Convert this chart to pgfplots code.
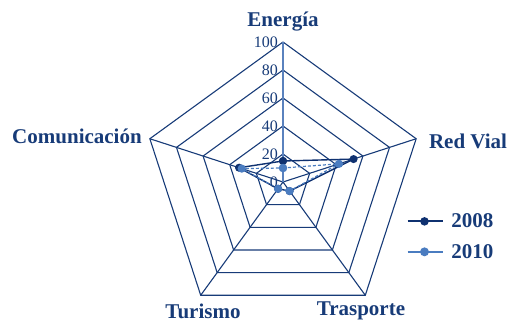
\documentclass[border=0pt]{standalone}
\usepackage{pgfplots}
\pgfplotsset{compat=1.18}
\usepgfplotslibrary{polar}
\usepackage{fontspec}
\setmainfont{Liberation Serif}
\definecolor{navy}{HTML}{173B78}
\definecolor{darkser}{HTML}{0F3170}
\definecolor{lightser}{HTML}{4A7CC0}
\definecolor{spoke}{HTML}{5A82BE}

\begin{document}
\begin{tikzpicture}[
  grid line/.style={navy, line width=1.1pt},
  tick lbl/.style={anchor=east, text=navy, font=\fontsize{16}{16}\selectfont, inner sep=0pt, xshift=-5pt},
]
\begin{polaraxis}[
  width=280pt, height=280pt, scale only axis,
  xmin=0, xmax=360, ymin=0, ymax=100,
  hide axis, clip=false,
  legend cell align=left,
  legend style={at={(axis description cs:0.93,0.305)}, anchor=west, draw=none, fill=none,
    font=\fontsize{21}{24}\selectfont\bfseries, text=navy, row sep=11pt, column sep=6pt},
  legend image code/.code={\draw[mark repeat=2,mark phase=2,#1,solid,line width=1.8pt] plot coordinates {(0pt,0pt) (17pt,0pt) (35pt,0pt)};},
]
% rings
\addplot[grid line, forget plot] coordinates {(90,20)(18,20)(-54,20)(-126,20)(162,20)(90,20)};
\addplot[grid line, forget plot] coordinates {(90,40)(18,40)(-54,40)(-126,40)(162,40)(90,40)};
\addplot[grid line, forget plot] coordinates {(90,60)(18,60)(-54,60)(-126,60)(162,60)(90,60)};
\addplot[grid line, forget plot] coordinates {(90,80)(18,80)(-54,80)(-126,80)(162,80)(90,80)};
\addplot[grid line, forget plot] coordinates {(90,100)(18,100)(-54,100)(-126,100)(162,100)(90,100)};
% spokes
\addplot[grid line, forget plot] coordinates {(18,0)(18,100)};
\addplot[grid line, forget plot] coordinates {(-54,0)(-54,100)};
\addplot[grid line, forget plot] coordinates {(-126,0)(-126,100)};
\addplot[grid line, forget plot] coordinates {(162,0)(162,100)};
\addplot[spoke, line width=1.6pt, forget plot] coordinates {(90,0)(90,100)};
% data
\addplot[darkser, line width=1.4pt, mark=*, mark size=3.3pt] coordinates {
  (90,15) (18,53) (-54,8) (-126,6) (162,33) (90,15)};
\addlegendentry{2008}
\addplot[lightser, line width=1.2pt, densely dashed, mark=*, mark size=3.5pt, mark options={solid}] coordinates {
  (90,10) (18,42) (-54,8) (-126,6) (162,31) (90,10)};
\addlegendentry{2010}
% value labels
\node[tick lbl] at (axis cs:90,0) {0};
\node[tick lbl] at (axis cs:90,20) {20};
\node[tick lbl] at (axis cs:90,40) {40};
\node[tick lbl] at (axis cs:90,60) {60};
\node[tick lbl] at (axis cs:90,80) {80};
\node[tick lbl] at (axis cs:90,100) {100};
\coordinate (c) at (axis cs:0,0);
\end{polaraxis}
\begin{scope}[every node/.style={text=navy, font=\fontsize{21}{24}\selectfont\bfseries}]
\node at ([shift={(0pt,160pt)}]c) {Energía};
\node at ([shift={(185pt,41pt)}]c) {Red Vial};
\node at ([shift={(78pt,-129pt)}]c) {Trasporte};
\node at ([shift={(-80pt,-129pt)}]c) {Turismo};
\node at ([shift={(-206pt,46pt)}]c) {Comunicación};
\end{scope}
\pgfresetboundingbox
\path (c) ++(-283pt,-142pt) rectangle ++(510pt,324pt);
\end{tikzpicture}
\end{document}
